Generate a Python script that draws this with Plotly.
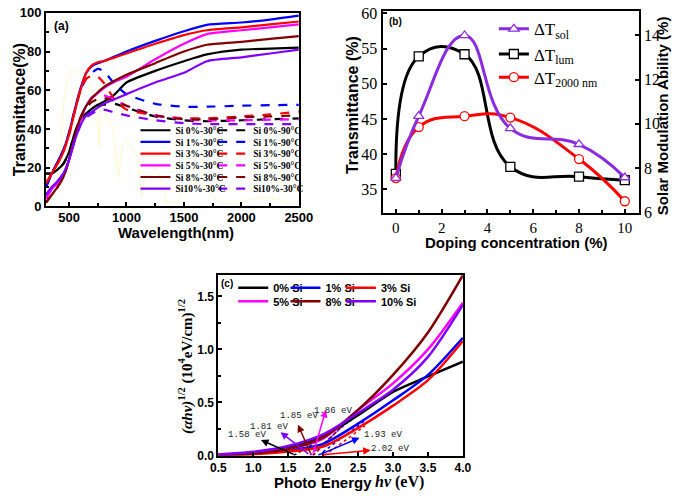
import plotly.graph_objects as go

W, H = 685, 501

# ---------------- Panel (a): transmittance spectra ----------------
wavelength_nm = [300, 350, 400, 450, 500, 550, 600, 650, 700, 750, 800, 900, 1000, 1250, 1500, 1700, 2000, 2250, 2500]
T_si0_30 = [17, 17, 19, 22, 28, 38, 45, 48, 50.5, 52.5, 54, 58, 64, 70, 75, 78.5, 81, 81.5, 82]
T_si1_30 = [10, 17, 23, 29, 38, 50, 61, 69, 72.5, 74, 75, 77.5, 80, 85.5, 90.5, 93.8, 95, 96.5, 98.5]
T_si3_30 = [12, 17, 22, 28, 37, 49, 60, 69, 73, 74.5, 75, 77, 79, 84, 88.5, 91, 92.5, 94, 95.5]
T_si5_30 = [4, 9, 12, 16, 24, 35, 45, 52, 56, 58.5, 61, 64.5, 67, 76, 84, 89, 91, 92.5, 94]
T_si8_30 = [2, 6, 10, 15, 24, 36, 46, 52, 56, 59, 61.5, 65, 68, 74, 80, 83.5, 85, 86.5, 88]
T_si10_30 = [6, 10, 13, 17, 24, 34, 42, 47, 49, 51, 53, 55.5, 58, 64, 69, 75, 77, 79, 81]
T_si0_90 = [17, 17, 19, 22, 28, 38, 45, 48, 50, 51.5, 52.5, 53, 51, 46.5, 44.5, 44, 44.5, 45, 45.5]
T_si1_90 = [10, 17, 23, 29, 38, 50, 60, 66, 69, 71, 70, 63, 58, 53, 51.5, 51.5, 52, 52.3, 52.5]
T_si3_90 = [12, 17, 22, 28, 37, 49, 60, 66, 67.5, 67, 64, 55, 50, 47, 45.5, 45.5, 46.5, 47.5, 49]
T_si5_90 = [4, 9, 12, 16, 24, 35, 45, 52, 56.5, 58, 57.5, 55, 52, 47, 45, 44.5, 44.5, 44.8, 45]
T_si8_90 = [2, 6, 10, 15, 24, 36, 46, 51, 54, 55.5, 56, 54.5, 52, 47, 45, 45, 46, 46.5, 47]
T_si10_90 = [6, 10, 13, 17, 24, 34, 42, 46, 48, 49.5, 50, 48.5, 47, 44.5, 43, 42.5, 42.5, 42.5, 42.5]
labels_30 = ["Si 0%-30°C", "Si 1%-30°C", "Si 3%-30°C", "Si 5%-30°C", "Si 8%-30°C", "Si10%-30°C"]
labels_90 = ["Si 0%-90°C", "Si 1%-90°C", "Si 3%-90°C", "Si 5%-90°C", "Si 8%-90°C", "Si10%-30°C"]

# faint solar spectrum in the background of panel (a)
solar_nm = [420, 440, 470, 500, 530, 560, 600, 650, 700, 740, 760, 775, 820, 880, 930, 960, 1000, 1050, 1100, 1130, 1160, 1250, 1300, 1350, 1450, 1500, 1600, 1700, 1800, 1950, 2050, 2200, 2300, 2400, 2500]
solar_val = [20, 45, 62, 68, 71, 70, 68, 65, 60, 56, 30, 52, 48, 40, 15, 30, 35, 30, 25, 5, 15, 20, 15, 2, 2, 10, 12, 10, 2, 1, 3, 5, 4, 2, 1]

# ---------------- Panel (b): modulation vs doping ----------------
doping = [0, 1, 3, 5, 8, 10]
dT_sol = [7.55, 10.35, 13.99, 9.8, 9.08, 7.58]
dT_lum = [37.2, 53.9, 54.2, 38.2, 36.8, 36.3]
dT_2000 = [36.6, 43.85, 45.4, 45.2, 39.3, 33.3]

# ---------------- Panel (c): Tauc plots ----------------
photon_eV = [0.5, 1.0, 1.5, 2.0, 2.5, 3.0, 3.5, 4.0]
tauc_0 = [0.01, 0.024, 0.076, 0.18, 0.38, 0.6, 0.745, 0.885]
tauc_1 = [0.005, 0.015, 0.046, 0.11, 0.30, 0.52, 0.76, 1.11]
tauc_3 = [0.004, 0.012, 0.037, 0.085, 0.26, 0.47, 0.71, 1.08]
tauc_5 = [0.008, 0.025, 0.06, 0.16, 0.43, 0.68, 1.0, 1.44]
tauc_8 = [0.006, 0.02, 0.06, 0.17, 0.43, 0.76, 1.16, 1.70]
tauc_10 = [0.01, 0.035, 0.09, 0.20, 0.40, 0.62, 0.93, 1.42]
tauc_labels = ["0% Si", "1% Si", "3% Si", "5% Si", "8% Si", "10% Si"]
band_gap = [1.58, 1.93, 2.02, 1.86, 1.85, 1.81]
fit_end_x = [2.4, 2.6, 2.6, 2.5, 2.5, 2.5]
fit_end_y = [0.33, 0.33, 0.28, 0.43, 0.43, 0.40]
gap_text = ["1.58 eV", "1.93 eV", "2.02 eV", "1.86 eV", "1.85 eV", "1.81 eV"]
gap_label_x = [0.91, 2.86, 2.95, 2.14, 1.65, 1.22]
gap_label_y = [0.19, 0.19, 0.06, 0.42, 0.37, 0.27]
arrow_head_x = [1.11, 2.52, 2.68, 2.04, 1.64, 1.39]
arrow_head_y = [0.146, 0.167, 0.05, 0.43, 0.29, 0.22]
arrow_tail_x = [1.60, 1.94, 1.97, 1.85, 1.83, 1.81]

colors = ["#000000", "#0000ff", "#ff0000", "#ff00ff", "#800000", "#8000ff"]

SANS = "Liberation Sans"
SERIF = "Liberation Serif"
MONO = "Liberation Mono"

legend_ids = ["legend"] + [f"legend{i}" for i in range(2, 22)]
legend_layouts = {}


def px_x(p):
    return p / W


def px_y(p):
    return 1 - p / H


def make_legend(idx, xpx, ypx, font):
    legend_layouts[legend_ids[idx]] = dict(
        x=px_x(xpx), y=px_y(ypx), xanchor="left", yanchor="middle",
        bgcolor="rgba(0,0,0,0)", borderwidth=0, font=font, orientation="v",
    )
    return legend_ids[idx]


fig = go.Figure()

# solar spectrum (no legend)
fig.add_trace(go.Scatter(x=solar_nm, y=solar_val, mode="lines",
                         line=dict(color="#fbf8c8", width=1), showlegend=False,
                         hoverinfo="skip", xaxis="x", yaxis="y"))

series_30 = [T_si0_30, T_si1_30, T_si3_30, T_si5_30, T_si8_30, T_si10_30]
series_90 = [T_si0_90, T_si1_90, T_si3_90, T_si5_90, T_si8_90, T_si10_90]
leg_font_a = dict(family=SERIF, size=9.5, color="black", weight="bold")
for i in range(6):
    row_y = 127.3 + 12.08 * i
    lid30 = make_legend(2 * i, 131.7, row_y, leg_font_a)
    lid90 = make_legend(2 * i + 1, 212.0, row_y, leg_font_a)
    fig.add_trace(go.Scatter(x=wavelength_nm, y=series_90[i], mode="lines", name=labels_90[i],
                             line=dict(color=colors[i], width=2.2, dash="dash", shape="spline", smoothing=0.6),
                             legend=lid90, xaxis="x", yaxis="y"))
    fig.add_trace(go.Scatter(x=wavelength_nm, y=series_30[i], mode="lines", name=labels_30[i],
                             line=dict(color=colors[i], width=2.2, shape="spline", smoothing=0.6),
                             legend=lid30, xaxis="x", yaxis="y"))

# panel (b)
leg_font_b = dict(family=SERIF, size=17, color="black")
b_series = [
    (dT_sol, "ΔT<sub>sol</sub>", "#8a2be2", "triangle-up", "y3", 23),
    (dT_lum, "ΔT<sub>lum</sub>", "#000000", "square", "y2", 49),
    (dT_2000, "ΔT<sub>2000 nm</sub>", "#ff0000", "circle", "y2", 73),
]
for k, (vals, nm, col, sym, yax, ly) in enumerate(b_series):
    lid = make_legend(12 + k, 502, ly, leg_font_b)
    fig.add_trace(go.Scatter(x=doping, y=vals, mode="lines+markers", name=nm,
                             line=dict(color=col, width=3, shape="spline", smoothing=1.3),
                             marker=dict(symbol=sym, size=9, color="white", line=dict(color=col, width=1.3)),
                             legend=lid, xaxis="x2", yaxis=yax))

# panel (c)
tauc_series = [tauc_0, tauc_1, tauc_3, tauc_5, tauc_8, tauc_10]
leg_font_c = dict(family=SANS, size=11, color="black", weight="bold")
leg_c_x = [232.7, 286.7, 344.0]
leg_c_y = [290, 304]
for i in range(6):
    fig.add_trace(go.Scatter(x=[band_gap[i], fit_end_x[i]], y=[0, fit_end_y[i]], mode="lines",
                             line=dict(color=colors[i], width=1.5, dash="dot"), showlegend=False,
                             xaxis="x3", yaxis="y4"))
for i in range(6):
    lid = make_legend(15 + i, leg_c_x[i % 3], leg_c_y[i // 3], leg_font_c)
    fig.add_trace(go.Scatter(x=photon_eV, y=tauc_series[i], mode="lines", name=tauc_labels[i],
                             line=dict(color=colors[i], width=2.5, shape="spline", smoothing=0.8),
                             legend=lid, xaxis="x3", yaxis="y4"))


def axis(**kw):
    d = dict(showline=True, linecolor="black", linewidth=2, mirror=True, ticks="inside",
             ticklen=4, tickwidth=1.5, tickcolor="black", showgrid=False, zeroline=False,
             ticklabeloverflow="allow")
    d.update(kw)
    return d


tf_a = dict(family=SANS, size=13, color="black", weight="bold")
tf_b = dict(family=SERIF, size=16, color="black")
tf_bx = dict(family=SERIF, size=15, color="black")
tf_c = dict(family=SANS, size=12, color="black", weight="bold")

fig.update_layout(
    width=W, height=H, margin=dict(l=0, r=0, t=0, b=0),
    paper_bgcolor="white", plot_bgcolor="white",
    xaxis=axis(domain=[px_x(39.3), px_x(300.5)], range=[300, 2500], anchor="y",
               tickvals=[500, 1000, 1500, 2000, 2500], tickfont=tf_a, ticklabelstandoff=-2,
               minor=dict(tickvals=[750, 1250, 1750, 2250], ticks="inside", ticklen=3, tickcolor="black")),
    yaxis=axis(domain=[px_y(206), px_y(6)], range=[0, 100], anchor="x",
               tickvals=[0, 20, 40, 60, 80, 100], tickfont=tf_a,
               minor=dict(tickvals=[10, 30, 50, 70, 90], ticks="inside", ticklen=3, tickcolor="black")),
    xaxis2=axis(domain=[px_x(387), px_x(651.7)], range=[-0.58, 10.61], anchor="y2",
                tickvals=[0, 2, 4, 6, 8, 10], tickfont=tf_bx,
                minor=dict(tickvals=[1, 3, 5, 7, 9], ticks="inside", ticklen=3, tickcolor="black")),
    yaxis2=axis(domain=[px_y(212.3), px_y(4)], range=[31.7, 60.37], anchor="x2", mirror=False,
                tickvals=[35, 40, 45, 50, 55, 60], tickfont=tf_b),
    yaxis3=axis(range=[6, 15.1], anchor="x2", overlaying="y2", side="right", mirror=False,
                tickvals=[6, 8, 10, 12, 14], tickfont=tf_b),
    xaxis3=axis(domain=[px_x(217.3), px_x(470)], range=[0.5, 4.0], anchor="y4",
                tickvals=[0.5, 1.0, 1.5, 2.0, 2.5, 3.0, 3.5, 4.0], ticktext=["0.5", "1.0", "1.5", "2.0", "2.5", "3.0", "3.5", "4.0"],
                tickfont=tf_c),
    yaxis4=axis(domain=[px_y(463.3), px_y(277)], range=[0, 1.7], anchor="x3",
                tickvals=[0, 0.5, 1.0, 1.5], ticktext=["0.0", "0.5", "1.0", "1.5"], tickfont=tf_c,
                minor=dict(tickvals=[0.25, 0.75, 1.25], ticks="inside", ticklen=3, tickcolor="black")),
    **legend_layouts,
)

ann = []


def text_ann(xpx, ypx, text, font, angle=0):
    ann.append(dict(x=px_x(xpx), y=px_y(ypx), xref="paper", yref="paper", text=text, showarrow=False,
                    font=font, textangle=angle, xanchor="center", yanchor="middle", borderpad=0))


title_bold_sans = dict(family=SANS, size=15, color="black", weight="bold")
text_ann(12, 106, "Transmittance(%)", dict(family=SANS, size=16, color="black", weight="bold"), -90)
text_ann(174, 233, "Wavelength(nm)", title_bold_sans)
text_ann(356.7, 101, "Transmittance (%)", dict(family=SANS, size=16, color="black", weight="bold"), -90)
text_ann(676.5, 112, "Solar Modulation Ability (%)", title_bold_sans, -90)
text_ann(525, 243, "Doping concentration (%)", title_bold_sans)
text_ann(184, 371.7, "<i>(αhν)</i><sup>1/2</sup> (10<sup>4</sup>eV/cm)<sup>1/2</sup>",
         dict(family=SERIF, size=15, color="black", weight="bold"), -90)
text_ann(325, 490.7, "Photo Energy", title_bold_sans)
text_ann(405, 490.7, "<i>hν</i> (eV)", dict(family=SERIF, size=16, color="black", weight="bold"))
text_ann(55, 20, "(a)", dict(family=SANS, size=12, color="black", weight="bold"))
text_ann(400, 15, "(b)", dict(family=SANS, size=10, color="black", weight="bold"))
text_ann(226.5, 286, "(c)", dict(family=SANS, size=10, color="black", weight="bold"))

for i in range(6):
    ann.append(dict(x=arrow_head_x[i], y=arrow_head_y[i], ax=arrow_tail_x[i], ay=0.005,
                    xref="x3", yref="y4", axref="x3", ayref="y4", text="", showarrow=True,
                    arrowhead=2, arrowsize=1, arrowwidth=1.5, arrowcolor=colors[i]))
    ann.append(dict(x=gap_label_x[i], y=gap_label_y[i], xref="x3", yref="y4", text=gap_text[i],
                    showarrow=False, font=dict(family=MONO, size=9, color="#222222")))

fig.update_layout(annotations=ann)
fig.write_html("out.html", config={"displayModeBar": False},
               post_script="document.body.style.margin='0';document.body.style.padding='0';"
                           "document.body.style.overflow='hidden';")
